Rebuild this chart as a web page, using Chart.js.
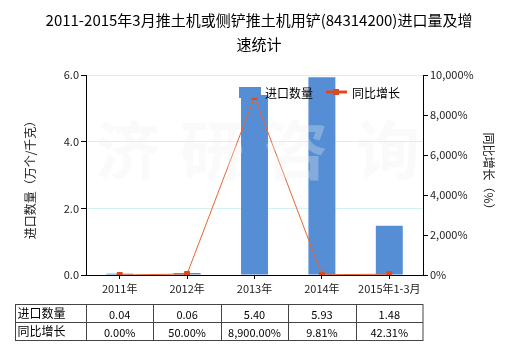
<!DOCTYPE html>
<html>
<head>
<meta charset="utf-8">
<script src="https://cdn.jsdelivr.net/npm/chart.js@4.4.0/dist/chart.umd.min.js"></script>
<style>
  html, body { margin: 0; padding: 0; background: #fff; }
  #wrap { width: 520px; height: 350px; }
</style>
</head>
<body>
<div id="wrap"><canvas id="myChart" width="520" height="350"></canvas></div>
<script>
const titleLines = ['2011-2015年3月推土机或侧铲推土机用铲(84314200)进口量及增', '速统计'];
const categories = ['2011年', '2012年', '2013年', '2014年', '2015年1-3月'];
const importQty = [0.04, 0.06, 5.40, 5.93, 1.48];
const growthRate = [0.00, 50.00, 8900.00, 9.81, 42.31];
const qtyTicks = [0, 2, 4, 6];
const growthTicks = [0, 2000, 4000, 6000, 8000, 10000];
const seriesNames = ['进口数量', '同比增长'];
const leftTitle = '进口数量（万个/千克）';
const rightTitle = '同比增长（%）';
const watermark = ['济', '研', '咨', '询'];

const FONT = '"Noto Sans CJK SC", "Noto Sans", sans-serif';
const BAR_COLOR = '#558ed5';
const LINE_COLOR = '#e8652f';
const POINT_COLOR = '#dc4b1d';

function fmtGrowth(v) {
    return v.toLocaleString('en-US', { minimumFractionDigits: 2, maximumFractionDigits: 2 }) + '%';
}

// 标题、水印、图例、数据表
const extras = {
    id: 'extras',
    afterDatasetsDraw(chart) {
        const ctx = chart.ctx;
        ctx.save();
        ctx.font = 'bold 64px ' + FONT;
        ctx.fillStyle = 'rgba(238,238,238,0.3)';
        ctx.textAlign = 'center';
        ctx.textBaseline = 'middle';
        const wx = [128, 212, 296, 388];
        watermark.forEach((ch, i) => ctx.fillText(ch, wx[i], 150));
        ctx.restore();
    },
    afterDraw(chart) {
        const ctx = chart.ctx;
        const xs = chart.scales.x;
        ctx.save();

        // 标题
        ctx.fillStyle = '#000';
        ctx.font = '15px ' + FONT;
        ctx.textAlign = 'center';
        ctx.textBaseline = 'middle';
        ctx.fillText(titleLines[0], 259, 20);
        ctx.fillText(titleLines[1], 259, 44);

        // 轴标题
        ctx.fillStyle = '#222';
        ctx.font = '12px ' + FONT;
        ctx.save();
        ctx.translate(30, 177);
        ctx.rotate(-Math.PI / 2);
        ctx.fillText(leftTitle, 0, 0);
        ctx.restore();
        ctx.save();
        ctx.translate(489, 174);
        ctx.rotate(Math.PI / 2);
        ctx.fillText(rightTitle, 0, 0);
        ctx.restore();

        // 图例
        ctx.fillStyle = BAR_COLOR;
        ctx.fillRect(239, 87, 22, 11);
        ctx.fillStyle = '#000';
        ctx.font = '12px ' + FONT;
        ctx.textAlign = 'left';
        ctx.fillText(seriesNames[0], 265, 93);
        ctx.strokeStyle = POINT_COLOR;
        ctx.lineWidth = 3;
        ctx.beginPath();
        ctx.moveTo(326, 92);
        ctx.lineTo(347, 92);
        ctx.stroke();
        ctx.fillStyle = POINT_COLOR;
        ctx.fillRect(333, 89, 6, 6);
        ctx.fillStyle = '#000';
        ctx.fillText(seriesNames[1], 352, 93);

        // 数据表
        const left = 15.5, top = 304.5, rowH = 18;
        const colW = (xs.right - xs.left) / categories.length;
        const right = xs.right;
        ctx.strokeStyle = '#444';
        ctx.lineWidth = 1;
        ctx.strokeRect(left, top, right - left, rowH * 2);
        ctx.beginPath();
        ctx.moveTo(left, top + rowH);
        ctx.lineTo(right, top + rowH);
        for (let i = 0; i < categories.length; i++) {
            const x = Math.round(xs.left + colW * i) + 0.5;
            ctx.moveTo(x, top);
            ctx.lineTo(x, top + rowH * 2);
        }
        ctx.stroke();
        ctx.fillStyle = '#000';
        ctx.textAlign = 'left';
        ctx.font = '12px ' + FONT;
        ctx.fillText(seriesNames[0], left + 2, top + rowH / 2);
        ctx.fillText(seriesNames[1], left + 2, top + rowH * 1.5);
        ctx.font = '11px ' + FONT;
        ctx.textAlign = 'center';
        categories.forEach((c, i) => {
            const cx = xs.getPixelForValue(i);
            ctx.fillText(importQty[i].toFixed(2), cx, top + rowH / 2 + 1);
            ctx.fillText(fmtGrowth(growthRate[i]), cx, top + rowH * 1.5 + 1);
        });
        ctx.restore();
    }
};

const ctx = document.getElementById('myChart').getContext('2d');
const chartInstance = new Chart(ctx, {
    data: {
        labels: categories,
        datasets: [
            {
                type: 'line',
                label: seriesNames[1],
                data: growthRate,
                yAxisID: 'y1',
                borderColor: LINE_COLOR,
                borderWidth: 1,
                pointStyle: 'rect',
                pointRadius: 3.5,
                pointBackgroundColor: POINT_COLOR,
                pointBorderColor: POINT_COLOR,
                tension: 0,
                order: 0
            },
            {
                type: 'bar',
                label: seriesNames[0],
                data: importQty,
                yAxisID: 'y',
                backgroundColor: BAR_COLOR,
                barPercentage: 0.4,
                categoryPercentage: 1,
                order: 1
            }
        ]
    },
    options: {
        responsive: false,
        animation: false,
        layout: { padding: { top: 75, left: 0, right: 0, bottom: 0 } },
        plugins: {
            legend: { display: false },
            tooltip: { enabled: false }
        },
        scales: {
            x: {
                offset: true,
                afterFit: (s) => { s.height = 75; },
                border: { color: '#000', width: 1 },
                grid: {
                    offset: false,
                    drawOnChartArea: false,
                    color: '#000',
                    tickColor: '#000',
                    tickLength: 4
                },
                ticks: {
                    color: '#222',
                    padding: 3,
                    maxRotation: 0,
                    font: { family: FONT, size: 11 }
                }
            },
            y: {
                position: 'left',
                min: 0,
                max: qtyTicks[qtyTicks.length - 1],
                afterFit: (s) => { s.width = 86; },
                afterBuildTicks: (s) => { s.ticks = qtyTicks.map(v => ({ value: v })); },
                border: { color: '#000', width: 1 },
                grid: {
                    color: '#d4f0f0',
                    tickColor: '#000',
                    tickLength: 5
                },
                ticks: {
                    color: '#222',
                    padding: 2,
                    font: { family: FONT, size: 11 },
                    callback: (v) => v.toFixed(1)
                }
            },
            y1: {
                position: 'right',
                min: 0,
                max: growthTicks[growthTicks.length - 1],
                afterFit: (s) => { s.width = 97; },
                afterBuildTicks: (s) => { s.ticks = growthTicks.map(v => ({ value: v })); },
                border: { color: '#000', width: 1 },
                grid: {
                    drawOnChartArea: false,
                    tickColor: '#000',
                    tickLength: 5
                },
                ticks: {
                    color: '#222',
                    padding: 2,
                    font: { family: FONT, size: 11 },
                    callback: (v) => v.toLocaleString('en-US') + '%'
                }
            }
        }
    },
    plugins: [extras]
});
</script>
</body>
</html>
